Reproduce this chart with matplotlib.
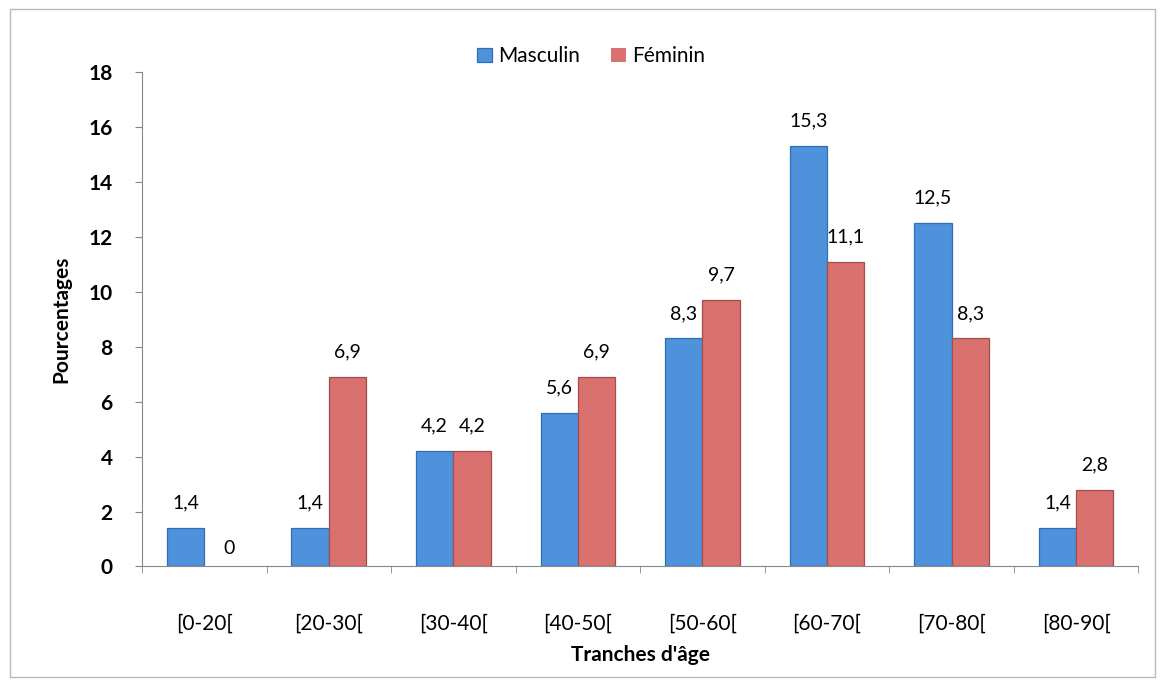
import matplotlib
matplotlib.use("Agg")
import matplotlib.pyplot as plt
import numpy as np
from matplotlib.patches import Rectangle

categories = ["[0-20[", "[20-30[", "[30-40[", "[40-50[", "[50-60[", "[60-70[", "[70-80[", "[80-90["]
masculin = [1.4, 1.4, 4.2, 5.6, 8.3, 15.3, 12.5, 1.4]
feminin = [0, 6.9, 4.2, 6.9, 9.7, 11.1, 8.3, 2.8]
yticks = [0, 2, 4, 6, 8, 10, 12, 14, 16, 18]

plt.rcParams['font.family'] = ['Lato', 'DejaVu Sans']

fig = plt.figure(figsize=(11.64, 6.85), dpi=100)
fig.patch.set_facecolor("white")
fig.patches.append(Rectangle((0.009, 0.012), 0.983, 0.975, transform=fig.transFigure,
                             fill=False, edgecolor="#b8b8b8", linewidth=1.0))

ax = fig.add_axes([0.122, 0.173, 0.856, 0.722])
x = np.arange(len(categories))
w = 0.30
c_m, e_m = "#4f92dc", "#2f6fb8"
c_f, e_f = "#d9716f", "#a84c4a"
ax.bar(x - w / 2, masculin, w, color=c_m, edgecolor=e_m, linewidth=0.9, label="Masculin")
bars_f = ax.bar(x + w / 2, feminin, w, color=c_f, edgecolor=e_f, linewidth=0.9, label="Féminin")
for b, v in zip(bars_f, feminin):
    if v == 0:
        b.set_edgecolor("none")


def fmt(v):
    return f"{v:g}".replace(".", ",")


for xi, v in zip(x, masculin):
    ax.text(xi - w / 2, v + 0.6, fmt(v), ha="center", va="bottom", fontsize=14)
for xi, v in zip(x, feminin):
    if v == 0:
        ax.text(xi + w / 2 + 0.05, 0.35, fmt(v), ha="center", va="bottom", fontsize=14)
    else:
        ax.text(xi + w / 2, v + 0.6, fmt(v), ha="center", va="bottom", fontsize=14)

ax.set_xlim(-0.5, len(categories) - 0.5)
ax.set_ylim(0, 18)
ax.set_yticks(yticks)
ax.set_yticklabels([str(t) for t in yticks], fontsize=15, fontweight="bold")
ax.set_xticks(x)
ax.set_xticklabels(categories, fontsize=15)
ax.set_xticks(np.arange(len(categories) + 1) - 0.5, minor=True)
ax.tick_params(axis="x", which="major", length=0, pad=34)
ax.tick_params(axis="x", which="minor", length=5, color="#888888")
ax.tick_params(axis="y", length=5, color="#888888", pad=16)

for s in ["top", "right"]:
    ax.spines[s].set_visible(False)
ax.spines["left"].set_color("#888888")
ax.spines["bottom"].set_color("#888888")

ax.set_ylabel("Pourcentages", fontsize=15, fontweight="bold", labelpad=12)
ax.set_xlabel("Tranches d'âge", fontsize=15, fontweight="bold", labelpad=8)

fig.legend(loc="center", bbox_to_anchor=(0.508, 0.918), ncol=2, frameon=False,
           fontsize=15, handlelength=0.7, handleheight=0.7, columnspacing=1.5, handletextpad=0.3)

fig.savefig("out.png", dpi=100)
